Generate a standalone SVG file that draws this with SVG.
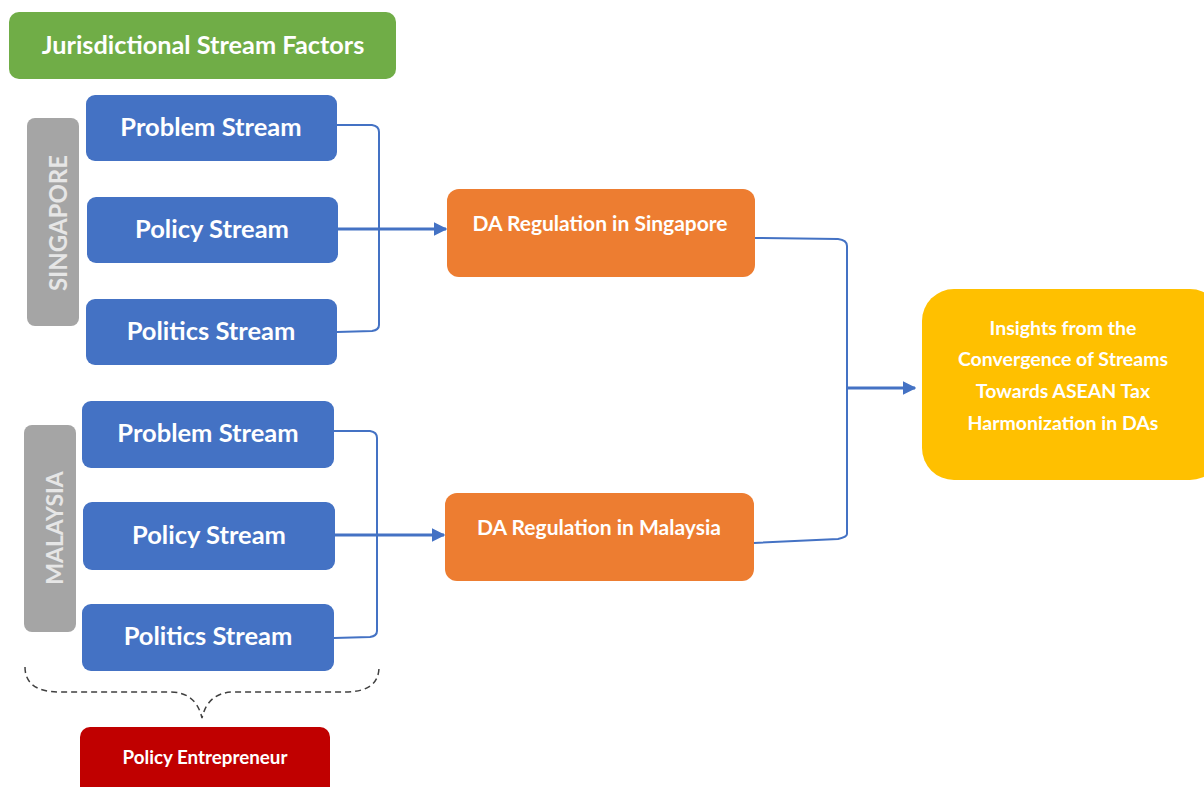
<svg xmlns="http://www.w3.org/2000/svg" width="1204" height="787" viewBox="0 0 1204 787">
<defs>
<style>
.t{font-family:Lato,"Open Sans","Liberation Sans",sans-serif;font-weight:700;fill:#ffffff;text-anchor:middle;dominant-baseline:central}
.blue{fill:#4472C4}
.conn{fill:none;stroke:#4472C4;stroke-width:2}
.arr{fill:none;stroke:#4472C4;stroke-width:3}
.st{font-size:25.5px}
.vl{font-size:24px;fill:#e6e6e6}
.da{font-size:21px}
.ins{font-size:19.5px}
</style>
<marker id="ah" viewBox="0 0 10 10" refX="9" refY="5" markerWidth="4.5" markerHeight="4.5" orient="auto" markerUnits="strokeWidth">
<path d="M0,0 L10,5 L0,10 Z" fill="#4472C4"/>
</marker>
</defs>
<rect width="1204" height="787" fill="#ffffff"/>

<g id="title">
<rect x="9" y="12" width="387" height="67" rx="10" fill="#70AD47"/>
<text class="t" x="203" y="44" font-size="25.3">Jurisdictional Stream Factors</text>
</g>

<g id="singapore-label">
<rect x="27" y="118" width="52" height="208" rx="8" fill="#A5A5A5"/>
<text class="t vl" transform="translate(57,223) rotate(-90)">SINGAPORE</text>
</g>
<g id="sg-problem">
<rect class="blue" x="86" y="95" width="251" height="66" rx="9"/>
<text class="t st" x="211" y="126">Problem Stream</text>
</g>
<g id="sg-policy">
<rect class="blue" x="87" y="197" width="251" height="66" rx="9"/>
<text class="t st" x="212" y="228">Policy Stream</text>
</g>
<g id="sg-politics">
<rect class="blue" x="86" y="299" width="251" height="66" rx="9"/>
<text class="t st" x="211" y="330">Politics Stream</text>
</g>

<g id="malaysia-label">
<rect x="24" y="425" width="52" height="207" rx="8" fill="#A5A5A5"/>
<text class="t vl" transform="translate(54,528) rotate(-90)" style="font-size:23px">MALAYSIA</text>
</g>
<g id="my-problem">
<rect class="blue" x="82" y="401" width="252" height="67" rx="9"/>
<text class="t st" x="208" y="432">Problem Stream</text>
</g>
<g id="my-policy">
<rect class="blue" x="83" y="502" width="252" height="68" rx="9"/>
<text class="t st" x="209" y="534">Policy Stream</text>
</g>
<g id="my-politics">
<rect class="blue" x="82" y="604" width="252" height="67" rx="9"/>
<text class="t st" x="208" y="635">Politics Stream</text>
</g>

<g id="da-singapore">
<rect x="447" y="189" width="308" height="88" rx="12" fill="#ED7D31"/>
<text class="t da" x="600" y="222">DA Regulation in Singapore</text>
</g>
<g id="da-malaysia">
<rect x="445" y="493" width="309" height="88" rx="12" fill="#ED7D31"/>
<text class="t da" x="599" y="526">DA Regulation in Malaysia</text>
</g>

<g id="insights">
<rect x="922" y="289" width="300" height="191" rx="32" fill="#FFC000"/>
<text class="t ins" x="1063" y="327">Insights from the</text>
<text class="t ins" x="1063" y="358">Convergence of Streams</text>
<text class="t ins" x="1063" y="390">Towards ASEAN Tax</text>
<text class="t ins" x="1063" y="422">Harmonization in DAs</text>
</g>

<g id="policy-entrepreneur">
<rect x="80" y="727" width="250" height="75" rx="10" fill="#C00000"/>
<text class="t" x="205" y="756" font-size="18.8">Policy Entrepreneur</text>
</g>

<g id="connectors">
<path class="conn" d="M337,125 L372,125 Q379,126 379,132 L379,325 Q379,330 372,331 L337,332"/>
<path class="arr" d="M338,229 L446,229" marker-end="url(#ah)"/>
<path class="conn" d="M334,431 L370,431 Q377,432 377,438 L377,631 Q377,636 370,637 L334,638"/>
<path class="arr" d="M335,535 L444,535" marker-end="url(#ah)"/>
<path class="conn" d="M755,238 L838,239 Q847,240 847,246 L847,534 Q847,537 838,539 L754,543"/>
<path class="arr" d="M847,388 L915,388" marker-end="url(#ah)"/>
<path d="M25,667 Q25,692 60,692 L170,692 Q196,692 202,718 Q208,692 234,692 L345,692 Q379,692 379,667" fill="none" stroke="#404040" stroke-width="1.5" stroke-dasharray="6,4"/>
</g>
</svg>
